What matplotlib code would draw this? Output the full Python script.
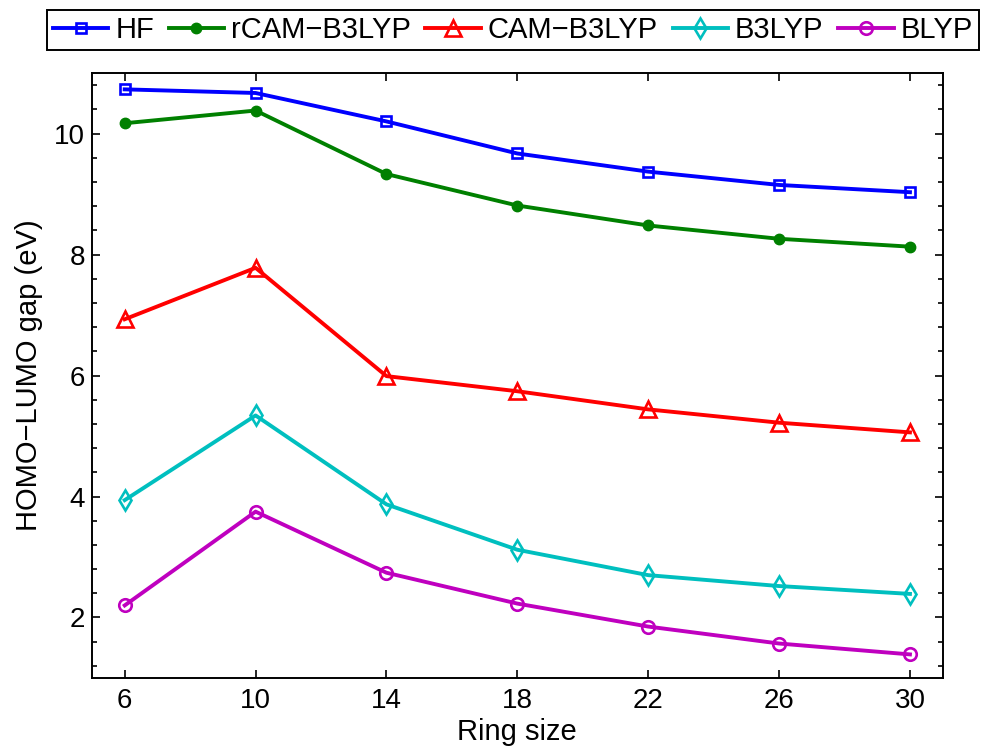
import matplotlib.pyplot as plt
from matplotlib.ticker import MultipleLocator

plt.rcParams['font.family'] = ['Liberation Sans', 'DejaVu Sans']

ring_size = [6, 10, 14, 18, 22, 26, 30]
hf = [10.73, 10.67, 10.20, 9.67, 9.37, 9.15, 9.03]
rcam_b3lyp = [10.17, 10.38, 9.33, 8.81, 8.48, 8.26, 8.13]
cam_b3lyp = [6.93, 7.78, 5.99, 5.74, 5.44, 5.22, 5.06]
b3lyp = [3.94, 5.34, 3.87, 3.12, 2.70, 2.52, 2.39]
blyp = [2.20, 3.75, 2.74, 2.23, 1.85, 1.57, 1.39]

fig = plt.figure(figsize=(9.84, 7.49), dpi=100)
ax = fig.add_axes([0.0935, 0.0948, 0.8645, 0.8077])

lw = 2.8
mew = 1.9
ax.plot(ring_size, hf, '-s', color='#0000ff', lw=lw, ms=7.5, mfc='none', mew=mew, label='HF')
ax.plot(ring_size, rcam_b3lyp, '-o', color='#008000', lw=lw, ms=7.5, label='rCAM\u2212B3LYP')
ax.plot(ring_size, cam_b3lyp, '-^', color='#ff0000', lw=lw, ms=11.5, mfc='none', mew=mew, label='CAM\u2212B3LYP')
ax.plot(ring_size, b3lyp, '-d', color='#00bfbf', lw=lw, ms=10.5, mfc='none', mew=mew, label='B3LYP')
ax.plot(ring_size, blyp, '-o', color='#bf00bf', lw=lw, ms=9, mfc='none', mew=mew, label='BLYP')

ax.set_xlim(5, 31)
ax.set_ylim(1, 11)
ax.set_xticks(ring_size)
ax.yaxis.set_major_locator(MultipleLocator(2))
ax.yaxis.set_minor_locator(MultipleLocator(0.4))
ax.tick_params(which='both', direction='in', top=True, right=True, labelsize=20, width=1.2)
ax.tick_params(which='major', length=6)
ax.tick_params(which='minor', length=3.5)
ax.tick_params(axis='x', pad=7)
ax.tick_params(axis='y', pad=5)
for s in ax.spines.values():
    s.set_linewidth(1.4)

ax.set_xlabel('Ring size', fontsize=21, labelpad=3)
ax.set_ylabel('HOMO\u2212LUMO gap (eV)', fontsize=21, labelpad=8)

leg = fig.legend(loc='upper left', bbox_to_anchor=(47 / 984, 1 - 10 / 749), ncol=5,
                 fontsize=21, frameon=True, fancybox=False, framealpha=1,
                 edgecolor='black', handlelength=1.9, handletextpad=0.24,
                 columnspacing=0.5, borderpad=0.2, borderaxespad=0)
leg.get_frame().set_linewidth(1.4)

fig.savefig('out.png', dpi=100)
